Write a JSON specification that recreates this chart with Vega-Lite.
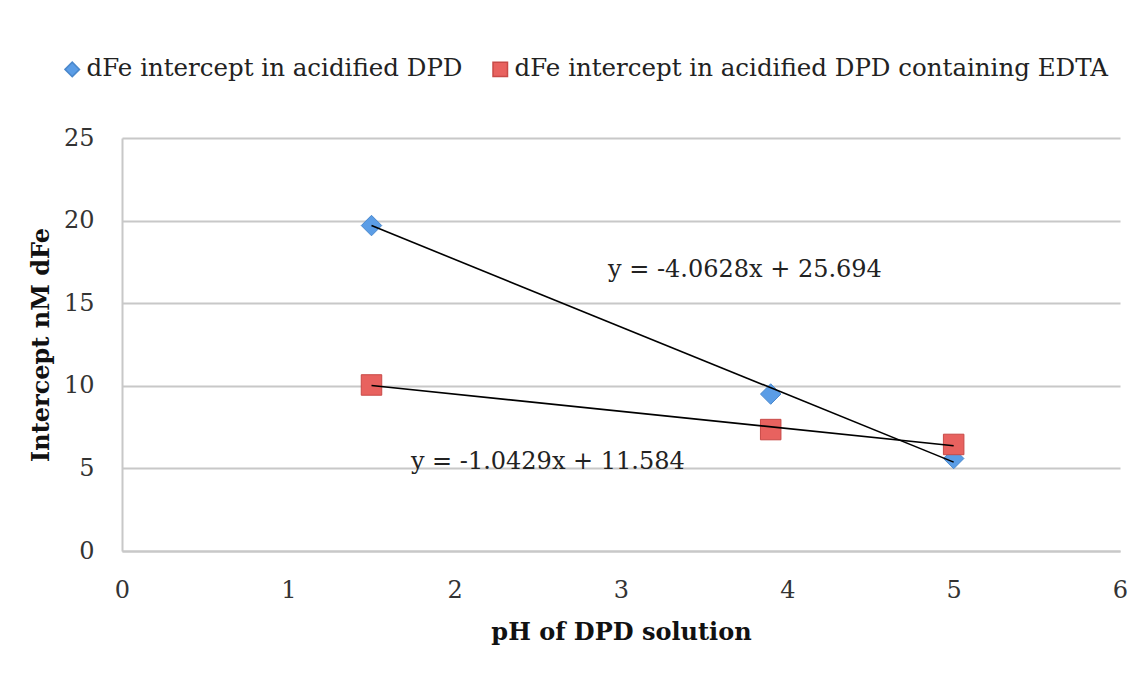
{
  "$schema": "https://vega.github.io/schema/vega-lite/v6.json",
  "autosize": "none",
  "width": 998,
  "height": 413,
  "padding": {"left": 122, "top": 138, "right": 23, "bottom": 123},
  "background": "white",
  "datasets": {
    "points": [
      {"series": "dFe intercept in acidified DPD", "ph": 1.5, "dfe": 19.7},
      {"series": "dFe intercept in acidified DPD", "ph": 3.9, "dfe": 9.5},
      {"series": "dFe intercept in acidified DPD", "ph": 5.0, "dfe": 5.6},
      {"series": "dFe intercept in acidified DPD containing EDTA", "ph": 1.5, "dfe": 10.05},
      {"series": "dFe intercept in acidified DPD containing EDTA", "ph": 3.9, "dfe": 7.35},
      {"series": "dFe intercept in acidified DPD containing EDTA", "ph": 5.0, "dfe": 6.45}
    ],
    "trend": [
      {"series": "acidified DPD", "ph": 1.5, "dfe": 19.6998},
      {"series": "acidified DPD", "ph": 5.0, "dfe": 5.38},
      {"series": "acidified DPD + EDTA", "ph": 1.5, "dfe": 10.0197},
      {"series": "acidified DPD + EDTA", "ph": 5.0, "dfe": 6.3695}
    ],
    "equations": [
      {"label": "y = -4.0628x + 25.694", "ph": 3.745, "dfe": 17.0},
      {"label": "y = -1.0429x + 11.584", "ph": 2.56, "dfe": 5.39}
    ]
  },
  "config": {
    "font": "DejaVu Serif",
    "view": {"stroke": null},
    "axis": {
      "labelFont": "DejaVu Serif",
      "labelFontSize": 24,
      "labelColor": "#333333",
      "titleFont": "DejaVu Serif",
      "titleFontSize": 24,
      "titleFontWeight": "bold",
      "titleColor": "#111111",
      "domainColor": "#c8c8c8",
      "domainWidth": 2,
      "gridColor": "#c8c8c8",
      "gridWidth": 2,
      "ticks": false
    }
  },
  "layer": [
    {
      "data": {"name": "points"},
      "mark": {"type": "point", "filled": true, "size": 420, "opacity": 1, "strokeWidth": 1},
      "encoding": {
        "x": {
          "field": "ph",
          "type": "quantitative",
          "scale": {"domain": [0, 6], "nice": false},
          "axis": {
            "title": "pH of DPD solution",
            "values": [0, 1, 2, 3, 4, 5, 6],
            "format": "d",
            "grid": false,
            "labelPadding": 27,
            "labelFlush": false,
            "titlePadding": 18
          }
        },
        "y": {
          "field": "dfe",
          "type": "quantitative",
          "scale": {"domain": [0, 25], "nice": false},
          "axis": {
            "title": "Intercept nM dFe",
            "values": [0, 5, 10, 15, 20, 25],
            "format": "d",
            "grid": true,
            "labelPadding": 28,
            "titlePadding": 10
          }
        },
        "color": {
          "field": "series",
          "type": "nominal",
          "scale": {
            "domain": ["dFe intercept in acidified DPD", "dFe intercept in acidified DPD containing EDTA"],
            "range": ["#5b9de6", "#e8625f"]
          },
          "legend": {
            "title": null,
            "orient": "none",
            "legendX": -62,
            "legendY": -81,
            "direction": "horizontal",
            "columns": 2,
            "columnPadding": 25,
            "labelFont": "DejaVu Serif",
            "labelFontSize": 24.5,
            "labelColor": "#222222",
            "labelLimit": 800,
            "symbolSize": 210,
            "symbolOpacity": 1,
            "labelOffset": 2
          }
        },
        "shape": {
          "field": "series",
          "type": "nominal",
          "scale": {
            "domain": ["dFe intercept in acidified DPD", "dFe intercept in acidified DPD containing EDTA"],
            "range": ["diamond", "square"]
          },
          "legend": null
        },
        "stroke": {
          "field": "series",
          "type": "nominal",
          "scale": {
            "domain": ["dFe intercept in acidified DPD", "dFe intercept in acidified DPD containing EDTA"],
            "range": ["#4a88cc", "#c84a47"]
          },
          "legend": null
        }
      }
    },
    {
      "data": {"name": "trend"},
      "mark": {"type": "line", "color": "#000000", "strokeWidth": 1.6},
      "encoding": {
        "x": {"field": "ph", "type": "quantitative"},
        "y": {"field": "dfe", "type": "quantitative"},
        "detail": {"field": "series", "type": "nominal"}
      }
    },
    {
      "data": {"name": "equations"},
      "mark": {"type": "text", "font": "DejaVu Serif", "fontSize": 24, "color": "#222222", "align": "center", "baseline": "middle"},
      "encoding": {
        "x": {"field": "ph", "type": "quantitative"},
        "y": {"field": "dfe", "type": "quantitative"},
        "text": {"field": "label", "type": "nominal"}
      }
    }
  ]
}
